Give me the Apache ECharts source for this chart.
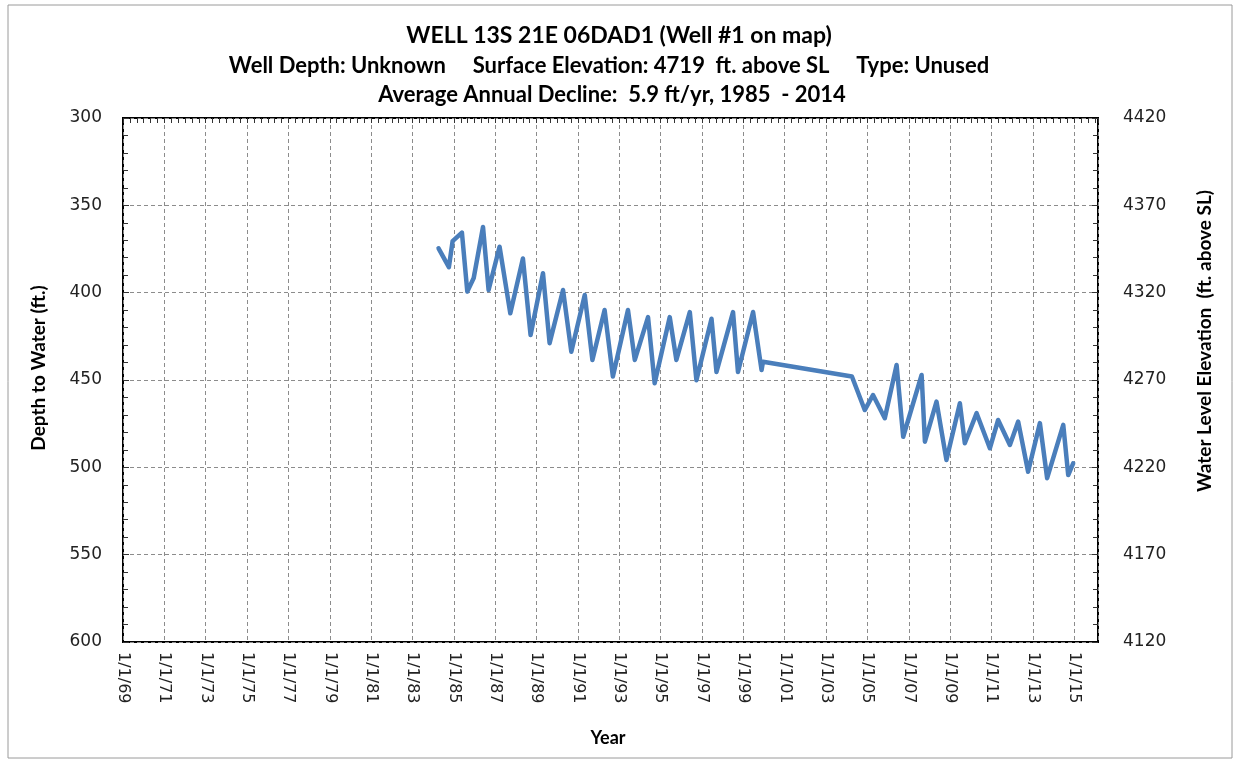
<!DOCTYPE html>
<html><head><meta charset="utf-8">
<script src="https://cdn.jsdelivr.net/npm/echarts@6/dist/echarts.min.js"></script>
<style>html,body{margin:0;padding:0;background:#fff}#c{width:1239px;height:765px}</style>
</head><body><div id="c"></div>
<script>
// decimal years of measurements
const years = [1984.26,1984.76,1984.94,1985.39,1985.65,1985.96,1986.41,1986.68,1987.21,1987.73,
  1988.34,1988.71,1989.31,1989.63,1990.28,1990.68,1991.33,1991.70,1992.29,1992.69,
  1993.42,1993.75,1994.39,1994.71,1995.44,1995.76,1996.41,1996.73,1997.46,1997.70,
  1998.50,1998.74,1999.47,1999.88,1999.95,2004.25,2004.87,2005.27,2005.84,2006.41,
  2006.73,2007.62,2007.78,2008.34,2008.82,2009.47,2009.71,2010.28,2010.92,2011.32,
  2011.89,2012.29,2012.77,2013.34,2013.69,2014.47,2014.71,2014.95];
// depth to water (ft.)
const depthToWater = [374.6,385.4,370.5,365.6,399.4,391.6,362.4,398.5,373.7,411.8,
  380.4,424.2,388.9,428.9,398.5,433.8,401.3,438.5,409.9,448.0,
  409.9,438.5,414.0,451.9,414.0,438.5,411.1,450.1,414.9,445.4,
  411.1,445.4,411.1,444.3,439.5,448.0,467.2,458.6,471.9,441.4,
  482.5,447.1,485.3,462.4,495.8,463.3,486.2,469.0,489.1,472.9,
  487.2,473.8,502.5,474.7,506.2,475.7,504.4,497.7];
const xAxisRange = [1969, 2016.15];
const xTickStep = 2;
const depthRange = [300, 600];
const elevationRange = [4120, 4420];
const yTickStep = 50;
const titleLines = [
  'WELL 13S 21E 06DAD1 (Well #1 on map)',
  'Well Depth: Unknown     Surface Elevation: 4719  ft. above SL     Type: Unused',
  'Average Annual Decline:  5.9 ft/yr, 1985  - 2014'
];
const xTitle = 'Year';
const yLeftTitle = 'Depth to Water (ft.)';
const yRightTitle = 'Water Level Elevation  (ft. above SL)';

const seriesData = years.map((y, i) => [y, depthToWater[i]]);
const titleFont = 'Lato, sans-serif';
const tickFont = 'DejaVu Sans';
const dashed = {show: true, lineStyle: {color: '#8c8c8c', type: [4, 3], width: 1}};

const chart = echarts.init(document.getElementById('c'));
chart.setOption({
  animation: false,
  backgroundColor: '#fff',
  grid: {left: 123, right: 141, top: 118, bottom: 123, show: true, borderColor: '#000', borderWidth: 2, containLabel: false},
  xAxis: [{
    type: 'value', min: xAxisRange[0], max: xAxisRange[1], interval: xTickStep, position: 'bottom',
    axisLine: {show: false}, axisTick: {show: false},
    splitLine: dashed,
    axisLabel: {rotate: -90, margin: 10, fontSize: 16, fontFamily: tickFont, color: '#222', showMaxLabel: false,
      formatter: v => (Math.abs(v - Math.round(v)) < 1e-6 && (Math.round(v) - 1969) % 2 === 0) ? '1/1/' + String(Math.round(v) % 100).padStart(2, '0') : ''}
  }, {
    type: 'value', min: xAxisRange[0], max: xAxisRange[1], interval: xTickStep, position: 'top',
    axisLine: {show: false}, axisLabel: {show: false}, splitLine: {show: false},
    axisTick: {show: true, inside: true, length: 5, lineStyle: {color: '#333'}},
    minorTick: {show: true, splitNumber: 6, length: 5, lineStyle: {color: '#333'}}
  }],
  yAxis: [{
    type: 'value', inverse: true, min: depthRange[0], max: depthRange[1], interval: yTickStep, position: 'left',
    axisLine: {show: false},
    axisTick: {show: true, inside: true, length: 6, lineStyle: {color: '#333'}},
    minorTick: {show: true, splitNumber: 5, length: 5, lineStyle: {color: '#333'}},
    splitLine: dashed,
    axisLabel: {margin: 21, fontSize: 17, fontFamily: tickFont, color: '#222', formatter: v => String(v)}
  }, {
    type: 'value', min: elevationRange[0], max: elevationRange[1], interval: yTickStep, position: 'right',
    axisLine: {show: false},
    axisTick: {show: true, inside: true, length: 6, lineStyle: {color: '#333'}},
    minorTick: {show: true, splitNumber: 5, length: 5, lineStyle: {color: '#333'}},
    splitLine: {show: false},
    axisLabel: {margin: 25, fontSize: 17, fontFamily: tickFont, color: '#222', formatter: v => String(v)}
  }],
  series: [{
    type: 'line', xAxisIndex: 0, yAxisIndex: 0, data: seriesData,
    showSymbol: false, symbol: 'none',
    lineStyle: {color: '#4a7ebb', width: 4.5, join: 'round', cap: 'round'}
  }],
  graphic: [
    {type: 'rect', shape: {x: 8, y: 5, width: 1224, height: 753}, style: {fill: 'none', stroke: '#9a9a9a', lineWidth: 1}, silent: true},
    {type: 'text', x: 619, y: 36, style: {text: titleLines[0], font: 'bold 23px ' + titleFont, fill: '#000', textAlign: 'center', textVerticalAlign: 'middle'}},
    {type: 'text', x: 609, y: 66, style: {text: titleLines[1], font: 'bold 22px ' + titleFont, fill: '#000', textAlign: 'center', textVerticalAlign: 'middle'}},
    {type: 'text', x: 612, y: 95, style: {text: titleLines[2], font: 'bold 22px ' + titleFont, fill: '#000', textAlign: 'center', textVerticalAlign: 'middle'}},
    {type: 'text', x: 608, y: 738, style: {text: xTitle, font: 'bold 18px ' + titleFont, fill: '#000', textAlign: 'center', textVerticalAlign: 'middle'}},
    {type: 'text', x: 39, y: 368, rotation: Math.PI / 2, style: {text: yLeftTitle, font: 'bold 19px ' + titleFont, fill: '#000', textAlign: 'center', textVerticalAlign: 'middle'}},
    {type: 'text', x: 1205, y: 341, rotation: Math.PI / 2, style: {text: yRightTitle, font: 'bold 19px ' + titleFont, fill: '#000', textAlign: 'center', textVerticalAlign: 'middle'}}
  ]
});
</script></body></html>
